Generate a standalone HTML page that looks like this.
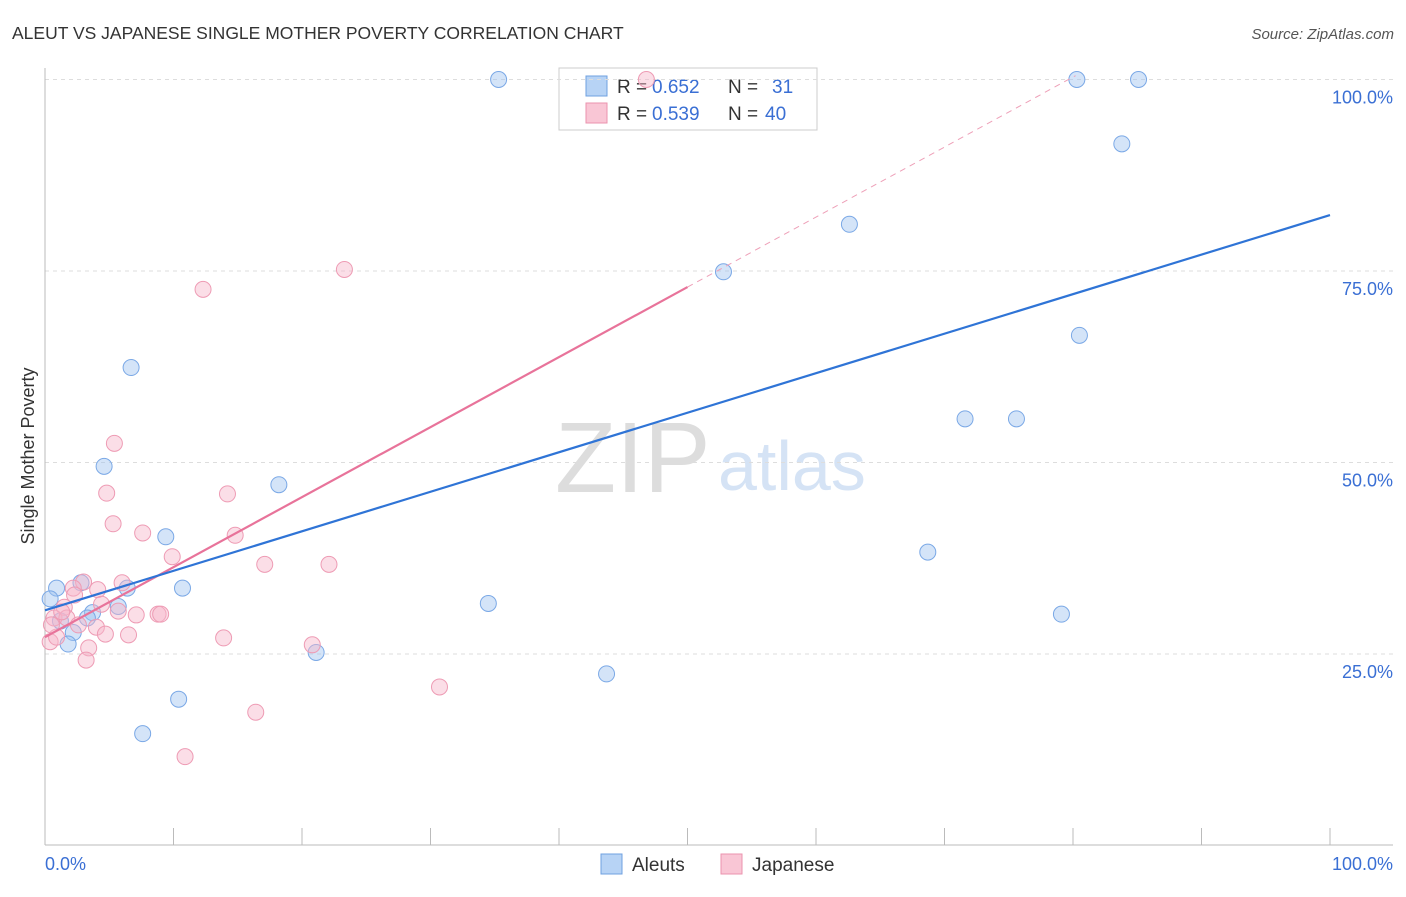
<!DOCTYPE html>
<html><head><meta charset="utf-8"><style>
body{margin:0;background:#fff;font-family:"Liberation Sans",sans-serif}
svg text{font-family:"Liberation Sans",sans-serif}
</style></head><body>
<svg id="c" width="1406" height="892">
<text x="12" y="39" font-size="17.5" fill="#333">ALEUT VS JAPANESE SINGLE MOTHER POVERTY CORRELATION CHART</text>
<text x="1394" y="39" font-size="15" fill="#555" font-style="italic" text-anchor="end">Source: ZipAtlas.com</text>
<text x="34" y="456" font-size="18" fill="#333" text-anchor="middle" transform="rotate(-90 34 456)">Single Mother Poverty</text>
<text x="555" y="492" font-size="100" fill="#ddd" font-family="Liberation Serif">ZIP</text>
<text x="718" y="490" font-size="70" fill="#d5e3f5">atlas</text>
<g>
<rect x="559" y="68" width="258" height="62" fill="#fff" stroke="#ccc"/>
<rect x="586" y="76" width="21" height="20" fill="#b7d3f5" stroke="#6fa0e0"/>
<rect x="586" y="103" width="21" height="20" fill="#f9c6d5" stroke="#eb93ae"/>
<text x="617" y="93" font-size="19" fill="#333">R =</text>
<text x="652" y="93" font-size="19" fill="#3a6fd4">0.652</text>
<text x="728" y="93" font-size="19" fill="#333">N =</text>
<text x="772" y="93" font-size="19" fill="#3a6fd4">31</text>
<text x="617" y="120" font-size="19" fill="#333">R =</text>
<text x="652" y="120" font-size="19" fill="#3a6fd4">0.539</text>
<text x="728" y="120" font-size="19" fill="#333">N =</text>
<text x="765" y="120" font-size="19" fill="#3a6fd4">40</text>
</g>
<g id="grid"></g><g id="marks"></g>
<g>
<rect x="601" y="854" width="21" height="20" fill="#b7d3f5" stroke="#6fa0e0"/>
<text x="632" y="871" font-size="19" fill="#333">Aleuts</text>
<rect x="721" y="854" width="21" height="20" fill="#f9c6d5" stroke="#eb93ae"/>
<text x="752" y="871" font-size="19" fill="#333">Japanese</text>
</g>
</svg>
<script>
const yTicks=[25,50,75,100];
const yTickLabels=["25.0%","50.0%","75.0%","100.0%"];
const xTicks=[0,10,20,30,40,50,60,70,80,90,100];
const xLabels=["0.0%","100.0%"];
const aleutX=[35.3,80.3,85.1,83.8,62.6,52.8,80.5,6.7,71.6,75.6,4.6,18.2,9.4,68.7,0.9,2.8,6.4,10.7,34.5,79.1,0.4,3.7,5.7,3.3,1.2,2.2,1.8,21.1,43.7,10.4,7.6];
const aleutY=[100,100,100,91.6,81.1,74.9,66.6,62.4,55.7,55.7,49.5,47.1,40.3,38.3,33.6,34.3,33.6,33.6,31.6,30.2,32.2,30.4,31.2,29.7,29.3,27.8,26.3,25.2,22.4,19.1,14.6];
const japX=[46.8,23.3,12.3,5.4,4.8,14.2,5.3,7.6,14.8,9.9,17.1,22.1,3.0,6.0,2.2,4.1,2.3,1.5,4.4,5.7,7.1,8.8,9.0,0.7,1.7,4.0,4.7,6.5,13.9,20.8,0.4,0.9,3.4,3.2,30.7,16.4,10.9,1.3,0.5,2.6];
const japY=[100,75.2,72.6,52.5,46.0,45.9,42.0,40.8,40.5,37.7,36.7,36.7,34.4,34.3,33.6,33.4,32.7,31.1,31.5,30.6,30.1,30.2,30.2,29.7,29.7,28.5,27.6,27.5,27.1,26.2,26.6,27.2,25.8,24.2,20.7,17.4,11.6,30.5,28.8,28.8];
const aleutFit=[30.7,82.3];
const japFit=[27.2,72.9];
const japFitEndX=50, japDashEndX=80.2;
const X=v=>45+v*12.85, Y=v=>845.5-v*7.66;
const NS="http://www.w3.org/2000/svg";
function mk(p,t,a){const e=document.createElementNS(NS,t);for(const k in a)e.setAttribute(k,a[k]);p.appendChild(e);return e;}
const g=document.getElementById('grid'), m=document.getElementById('marks');
yTicks.forEach((t,i)=>{
 const l=mk(g,'line',{x1:45,x2:1393,y1:Y(t),y2:Y(t),stroke:'#ddd','stroke-dasharray':'4,4'});
 
 
 const tx=mk(g,'text',{x:1393,y:Y(t)+24,'font-size':18,fill:'#3a6fd4','text-anchor':'end'});tx.textContent=yTickLabels[i];
 
 
});
mk(g,'line',{x1:45,x2:45,y1:68,y2:845,stroke:'#bbb'});
mk(g,'line',{x1:45,x2:1393,y1:845,y2:845,stroke:'#bbb'});
xTicks.forEach(t=>{const l=mk(g,'line',{x1:X(t),x2:X(t),y1:828,y2:845,stroke:'#bbb'});
 
 });
const a=mk(g,'text',{x:45,y:870,'font-size':18,fill:'#3a6fd4'});a.textContent=xLabels[0];


const b=mk(g,'text',{x:1393,y:870,'font-size':18,fill:'#3a6fd4','text-anchor':'end'});b.textContent=xLabels[1];


aleutX.forEach((x,i)=>{const c=mk(m,'circle',{cx:X(x),cy:Y(aleutY[i]),r:8,fill:'rgba(160,196,240,0.45)',stroke:'#7aa8e6','stroke-width':1});
 
 });
japX.forEach((x,i)=>{const c=mk(m,'circle',{cx:X(x),cy:Y(japY[i]),r:8,fill:'rgba(247,182,202,0.45)',stroke:'#ee9bb4','stroke-width':1});
 
 });
const jslope=(japFit[1]-japFit[0])/japFitEndX;
const d=mk(m,'line',{x1:X(japFitEndX),y1:Y(japFit[1]),x2:X(japDashEndX),y2:Y(japFit[0]+jslope*japDashEndX),stroke:'#eea0b8','stroke-dasharray':'6,5'});


const jl=mk(m,'line',{x1:X(0),y1:Y(japFit[0]),x2:X(japFitEndX),y2:Y(japFit[1]),stroke:'#e8739a','stroke-width':2.2});


const bl=mk(m,'line',{x1:X(0),y1:Y(aleutFit[0]),x2:X(100),y2:Y(aleutFit[1]),stroke:'#2f74d6','stroke-width':2.2});


</script>
</body></html>
